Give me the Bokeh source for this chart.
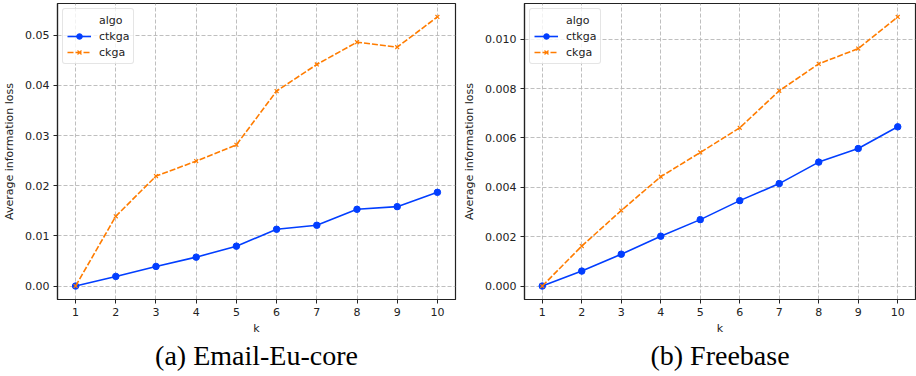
from bokeh.plotting import figure
from bokeh.layouts import row
from bokeh.models import Range1d, Legend, LegendItem, Title, FixedTicker
from bokeh.embed import file_html
from bokeh.resources import INLINE

k = [1, 2, 3, 4, 5, 6, 7, 8, 9, 10]

email_ctkga = [0.0, 0.00192, 0.00391, 0.00576, 0.00795, 0.01132, 0.01212, 0.0153, 0.01583, 0.01868]
email_ckga = [0.0, 0.01391, 0.02192, 0.0249, 0.02815, 0.03887, 0.04417, 0.04861, 0.04762, 0.05364]

freebase_ctkga = [0.0, 0.000606, 0.00129, 0.00202, 0.00269, 0.00346, 0.00415, 0.00502, 0.00557, 0.00645]
freebase_ckga = [0.0, 0.00162, 0.00306, 0.00443, 0.00541, 0.00641, 0.00791, 0.0090, 0.00962, 0.0109]

email_yticks = [0.0, 0.01, 0.02, 0.03, 0.04, 0.05]
freebase_yticks = [0.0, 0.002, 0.004, 0.006, 0.008, 0.010]
email_ylabels = ["0.00", "0.01", "0.02", "0.03", "0.04", "0.05"]
freebase_ylabels = ["0.000", "0.002", "0.004", "0.006", "0.008", "0.010"]

captions = ["(a) Email-Eu-core", "(b) Freebase"]
series_names = ["ctkga", "ckga"]
legend_title = "algo"

BLUE = "#023eff"
ORANGE = "#ff7c00"
FONT = "DejaVu Sans"


def make_panel(ctkga, ckga, yticks, ylabels, caption, border_left):
    ymin = min(ctkga + ckga)
    ymax = max(ctkga + ckga)
    pad = (ymax - ymin) * 0.05
    xpad = (max(k) - min(k)) * 0.05
    p = figure(width=458, height=376, output_backend="svg", toolbar_location=None,
               x_range=Range1d(min(k) - xpad, max(k) + xpad),
               y_range=Range1d(ymin - pad, ymax + pad),
               min_border_left=border_left, min_border_right=(3 if border_left < 60 else 1),
               min_border_top=3, min_border_bottom=77)
    p.background_fill_color = "white"
    p.border_fill_color = "white"
    p.outline_line_color = "#222222"
    p.outline_line_width = 1.2

    for ax in (p.xaxis[0], p.yaxis[0]):
        ax.axis_line_color = "#222222"
        ax.axis_line_width = 1.2
        ax.major_tick_line_color = "#222222"
        ax.major_tick_out = 4
        ax.major_tick_in = 0
        ax.minor_tick_out = 0
        ax.minor_tick_in = 0
        ax.major_label_text_font = FONT
        ax.major_label_text_font_size = "11px"
        ax.major_label_text_color = "#222222"
        ax.axis_label_text_font = FONT
        ax.axis_label_text_font_size = "11px"
        ax.axis_label_text_font_style = "normal"
        ax.axis_label_text_color = "#222222"
        ax.major_label_standoff = 4

    p.xaxis.ticker = FixedTicker(ticks=k)
    p.xaxis.axis_label = "k"
    p.xaxis.axis_label_standoff = 3
    p.yaxis.ticker = FixedTicker(ticks=yticks)
    p.yaxis.major_label_overrides = {t: l for t, l in zip(yticks, ylabels)}
    p.yaxis.axis_label = "Average information loss"
    p.yaxis.axis_label_standoff = 6

    for g in (p.xgrid[0], p.ygrid[0]):
        g.grid_line_color = "#b8b8b8"
        g.grid_line_dash = "4 2"
        g.grid_line_width = 0.9
    p.xgrid.ticker = FixedTicker(ticks=k)
    p.ygrid.ticker = FixedTicker(ticks=yticks)

    dummy = p.line(x=[], y=[], line_alpha=0)
    l1 = p.line(k, ctkga, line_color=BLUE, line_width=1.6)
    s1 = p.scatter(k, ctkga, marker="circle", size=6.5, fill_color=BLUE, line_color=BLUE)
    l2 = p.line(k, ckga, line_color=ORANGE, line_width=1.6, line_dash="6 2")
    s2 = p.scatter(k, ckga, marker="x", size=5.5, line_color=ORANGE, line_width=1.2)

    legend = Legend(items=[
        LegendItem(label=legend_title, renderers=[dummy]),
        LegendItem(label=series_names[0], renderers=[l1, s1]),
        LegendItem(label=series_names[1], renderers=[l2, s2]),
    ], location="top_left")
    legend.margin = 5
    legend.padding = 4
    legend.spacing = 2
    legend.glyph_height = 14
    legend.glyph_width = 24
    legend.label_standoff = 8
    legend.label_height = 14
    legend.label_text_font = FONT
    legend.label_text_font_size = "11px"
    legend.label_text_color = "#222222"
    legend.border_line_color = "#cccccc"
    legend.border_line_width = 1
    legend.border_radius = 3
    legend.background_fill_alpha = 0.8
    p.add_layout(legend, "center")

    t = Title(text=caption, align="center", text_font="Liberation Serif",
              text_font_size="28px", text_font_style="normal", text_color="black",
              standoff=0, offset=0)
    p.add_layout(t, "below")
    return p


p1 = make_panel(email_ctkga, email_ckga, email_yticks, email_ylabels, captions[0], 57)
p2 = make_panel(freebase_ctkga, freebase_ckga, freebase_yticks, freebase_ylabels, captions[1], 66)

layout = row(p1, p2, spacing=0)
open("out.html", "w").write(file_html(layout, INLINE))
